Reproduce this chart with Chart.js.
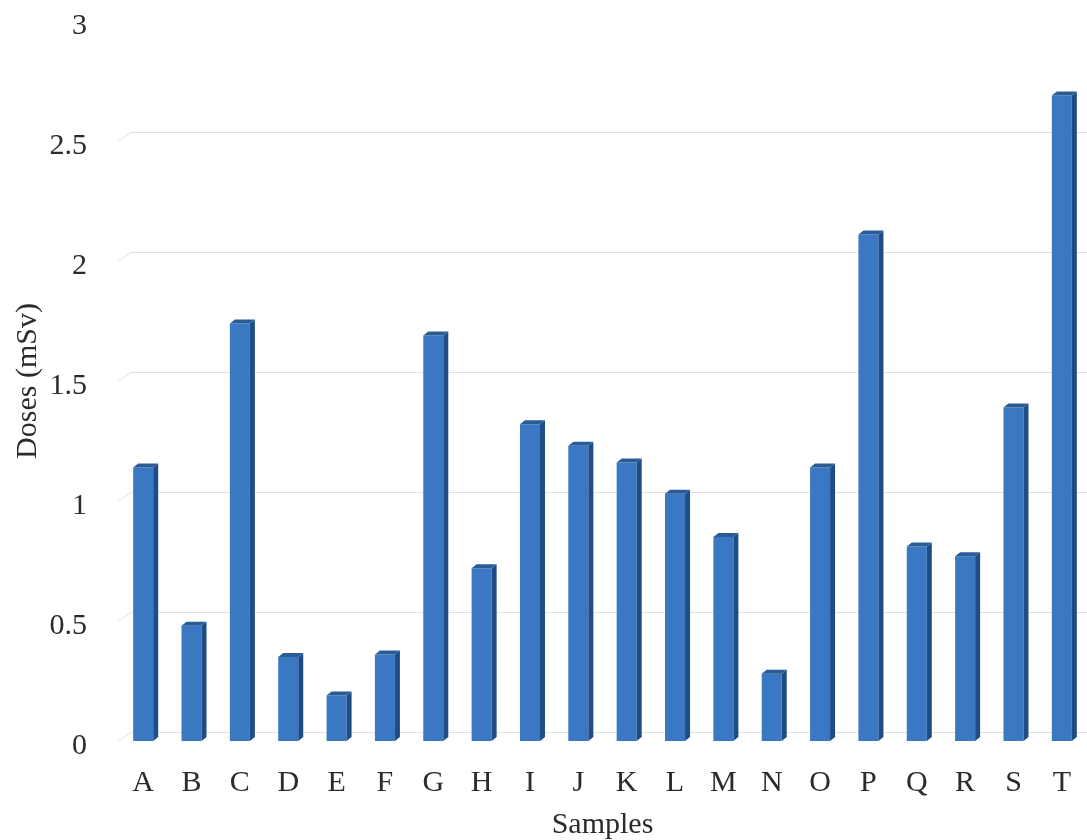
<!DOCTYPE html>
<html>
<head>
<meta charset="utf-8">
<title>Doses (mSv) by sample</title>
<script src="https://cdn.jsdelivr.net/npm/chart.js@4.4.1/dist/chart.umd.min.js"></script>
<style>
  html, body { margin: 0; padding: 0; background: #ffffff; }
  #wrap { width: 1087px; height: 840px; }
</style>
</head>
<body>
<div id="wrap"><canvas id="doses" width="1087" height="840"></canvas></div>
<script>
// Sample labels along the category axis
const samples = ['A','B','C','D','E','F','G','H','I','J','K','L','M','N','O','P','Q','R','S','T'];
// Dose per sample, mSv
const doses = [1.14, 0.48, 1.74, 0.35, 0.19, 0.36, 1.69, 0.72, 1.32, 1.23,
               1.16, 1.03, 0.85, 0.28, 1.14, 2.11, 0.81, 0.77, 1.39, 2.69];
// Value axis labels
const doseTicks = ['0', '0.5', '1', '1.5', '2', '2.5', '3'];

const FRONT = '#3a78c4';
const SIDE = '#1e4c84';
const TOP = '#2a5c98';
const GRID = '#e2e2e6';
const TEXT = '#2b2b2b';
const SERIF = '"Liberation Serif", "Times New Roman", serif';

// Extrusion of each column and offset of the back wall
const colDepth = { dx: 5, dy: 4 };
const wallDepth = { dx: 12, dy: 9 };

const columnDepth = {
  id: 'columnDepth',
  beforeDatasetsDraw(chart) {
    const { ctx, chartArea, scales: { y } } = chart;
    ctx.save();
    ctx.strokeStyle = GRID;
    ctx.lineWidth = 1;
    y.ticks.forEach(t => {
      if (t.value >= y.max) return;
      const py = Math.round(y.getPixelForValue(t.value)) + 0.5;
      ctx.beginPath();
      ctx.moveTo(chartArea.left - 1, py);
      ctx.lineTo(chartArea.left + wallDepth.dx, py - wallDepth.dy);
      ctx.lineTo(chartArea.right + 1, py - wallDepth.dy);
      ctx.stroke();
    });
    ctx.restore();
  },
  afterDatasetsDraw(chart) {
    const { ctx } = chart;
    const meta = chart.getDatasetMeta(0);
    ctx.save();
    meta.data.forEach(bar => {
      const { x, y, base, width } = bar.getProps(['x', 'y', 'base', 'width'], true);
      const l = x - width / 2, r = x + width / 2;
      const { dx, dy } = colDepth;
      // right side face
      ctx.fillStyle = SIDE;
      ctx.beginPath();
      ctx.moveTo(r, y);
      ctx.lineTo(r + dx, y - dy);
      ctx.lineTo(r + dx, base - dy);
      ctx.lineTo(r, base);
      ctx.closePath();
      ctx.fill();
      // top face
      ctx.fillStyle = TOP;
      ctx.beginPath();
      ctx.moveTo(l, y);
      ctx.lineTo(l + dx, y - dy);
      ctx.lineTo(r + dx, y - dy);
      ctx.lineTo(r, y);
      ctx.closePath();
      ctx.fill();
    });
    ctx.restore();
  }
};

new Chart(document.getElementById('doses'), {
  type: 'bar',
  data: {
    labels: samples,
    datasets: [{
      label: 'Doses (mSv)',
      data: doses,
      backgroundColor: FRONT,
      borderWidth: 0,
      barPercentage: 0.414,
      categoryPercentage: 1.0
    }]
  },
  options: {
    responsive: false,
    animation: false,
    devicePixelRatio: 1,
    layout: { padding: { top: 21, right: 1, bottom: 0, left: 0 } },
    plugins: {
      legend: { display: false },
      tooltip: { enabled: false }
    },
    scales: {
      x: {
        grid: { display: false, drawTicks: false },
        border: { display: false },
        ticks: {
          color: TEXT,
          font: { family: SERIF, size: 30 },
          padding: 24,
          maxRotation: 0,
          autoSkip: false
        },
        title: {
          display: true,
          text: 'Samples',
          color: TEXT,
          font: { family: SERIF, size: 30 },
          padding: { top: 0, bottom: -3 }
        },
        afterFit(scale) {
          scale.height = 99;
          scale.paddingLeft = 0;
          scale.paddingRight = 0;
        }
      },
      y: {
        min: 0,
        max: 3,
        grid: { display: false, drawTicks: false },
        border: { display: false },
        ticks: {
          stepSize: 0.5,
          color: TEXT,
          font: { family: SERIF, size: 30 },
          padding: 32,
          labelOffset: 5,
          callback: (value, index) => doseTicks[index]
        },
        title: {
          display: true,
          text: 'Doses (mSv)',
          color: TEXT,
          font: { family: SERIF, size: 30 },
          padding: { top: 10, bottom: 0 }
        },
        afterFit(scale) {
          scale.width = 119;
          scale.paddingTop = 0;
          scale.paddingBottom = 0;
        }
      }
    }
  },
  plugins: [columnDepth]
});
</script>
</body>
</html>
